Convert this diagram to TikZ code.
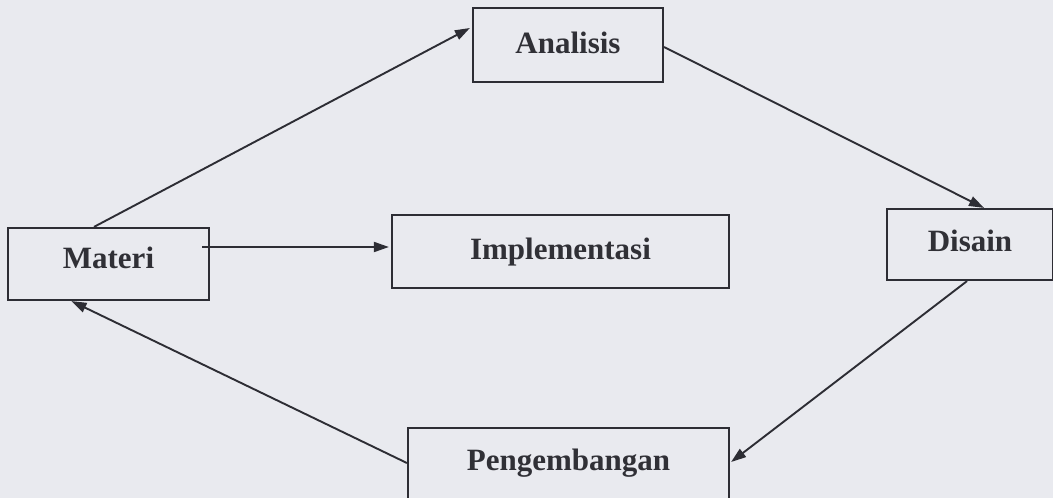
\documentclass[tikz,border=0pt]{standalone}
\usepackage{fontspec}
\setmainfont{Liberation Serif}
\usetikzlibrary{arrows.meta}
\definecolor{bgc}{RGB}{233,234,239}
\definecolor{ink}{RGB}{45,45,52}
\definecolor{txt}{RGB}{48,48,54}
\tikzset{
  box/.style={draw=ink, line width=2.2pt, fill=bgc, text=txt,
    font=\bfseries\fontsize{31}{31}\selectfont, inner sep=0pt,
    text height=22pt, text depth=6pt},
  conn/.style={draw=ink, line width=1.9pt, -{Triangle[length=15pt,width=10pt]}}
}
\begin{document}
\begin{tikzpicture}[x=1pt,y=-1pt]
\clip (0,0) rectangle (1053,498);
\fill[bgc] (0,0) rectangle (1053,498);
\node[box, minimum width=190pt, minimum height=74pt] (analisis) at (568,45) {Analisis};
\node[box, minimum width=201pt, minimum height=72pt, text height=14pt, text depth=6pt] (materi) at (108.5,264) {Materi};
\node[box, minimum width=337pt, minimum height=73pt] (impl) at (560.5,251.5) {Implementasi};
\node[box, minimum width=166pt, minimum height=71pt, text height=20pt, text depth=6pt] (disain) at (970,244.5) {Disain};
\node[box, minimum width=321pt, minimum height=84pt, text height=10pt, text depth=10pt] (peng) at (568.5,470) {Pengembangan};
\draw[conn] ([xshift=-14.5pt]materi.north) -- ([yshift=17pt,xshift=-2pt]analisis.west);
\draw[conn] ([yshift=-2pt]analisis.east) -- ([xshift=14pt]disain.north);
\draw[conn] ([xshift=-3pt]disain.south) -- ([yshift=8pt,xshift=1pt]peng.east);
\draw[conn] ([yshift=7pt]peng.west) -- ([xshift=-37pt]materi.south);
\draw[conn] ([xshift=-8pt,yshift=17pt]materi.east) -- ([yshift=4.5pt,xshift=-2pt]impl.west);
\end{tikzpicture}
\end{document}
